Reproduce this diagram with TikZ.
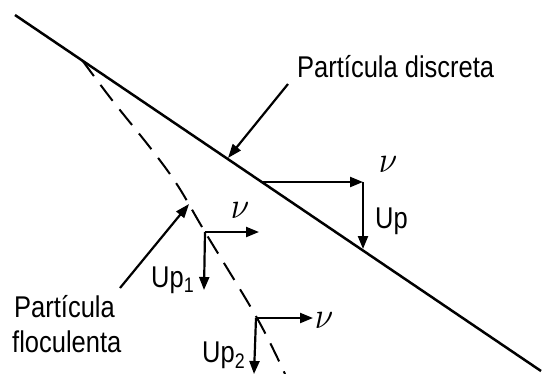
\documentclass[tikz,border=0pt]{standalone}
\usepackage{fontspec}
\usepackage{graphicx}
\newfontfamily\labfont[FakeStretch=0.85]{Liberation Sans}
\usetikzlibrary{arrows.meta}
\tikzset{
  lbl/.style={inner sep=0pt, font=\labfont\fontsize{30}{30}\selectfont},
  nulbl/.style={inner sep=0pt},
  vec/.style={line width=2.2pt, -{Triangle[length=13pt,width=10pt]}},
  pointer/.style={line width=2.2pt, -{Triangle[length=14pt,width=10pt]}},
  trace/.style={line width=2.5pt},
  floc/.style={line width=2pt, dash pattern=on 20pt off 11pt}
}
\newcommand{\nusym}{\scalebox{3.3}[3.7]{$\nu$}}
\begin{document}
\begin{tikzpicture}[x=1pt,y=-1pt]
\useasboundingbox (0,0) rectangle (543,373);
% trajectories
\coordinate (ds) at (15,15);
\coordinate (de) at (541,371);
\draw[trace] (ds) -- (de);
\draw[floc] plot[smooth, tension=0.6] coordinates {(82,60) (112,100) (152,150) (178,186) (205,232) (257,318) (285,374)};
% discrete particle vectors
\coordinate (c0) at (262,182);
\coordinate (c0v) at (363,182);
\coordinate (c0d) at (363,249);
\draw[vec] (c0) -- (c0v);
\draw[vec] (c0v) -- (c0d);
\node[nulbl] (nu0) at (388,165) {\nusym};
\node[lbl, anchor=base west] (up0) at (375,228) {Up};
% flocculent particle vectors 1
\coordinate (c1) at (205,232);
\coordinate (c1h) at (259,232);
\coordinate (c1d) at (204,290);
\draw[vec] (c1) -- (c1h);
\draw[vec] (c1) -- (c1d);
\node[nulbl] (nu1) at (240,211) {\nusym};
\node[lbl, anchor=base west] (up1) at (151,287) {Up\textsubscript{1}};
% flocculent particle vectors 2
\coordinate (c2) at (256,318);
\coordinate (c2h) at (313,318);
\coordinate (c2d) at (254,374);
\draw[vec] (c2) -- (c2h);
\draw[vec] (c2) -- (c2d);
\node[nulbl] (nu2) at (324,321) {\nusym};
\node[lbl, anchor=base west] (up2) at (202,362) {Up\textsubscript{2}};
% labels with pointers
\node[lbl, anchor=base west] (disc) at (297,77) {Partícula discreta};
\coordinate (dstart) at (288,84);
\coordinate (dtip) at (228,158);
\draw[pointer] (dstart) -- (dtip);
\node[lbl, anchor=base west] (flocA) at (14,317) {Partícula};
\node[lbl, anchor=base west] (flocB) at (12,352) {floculenta};
\coordinate (fstart) at (120,288);
\coordinate (ftip) at (189,204);
\draw[pointer] (fstart) -- (ftip);
\end{tikzpicture}
\end{document}
